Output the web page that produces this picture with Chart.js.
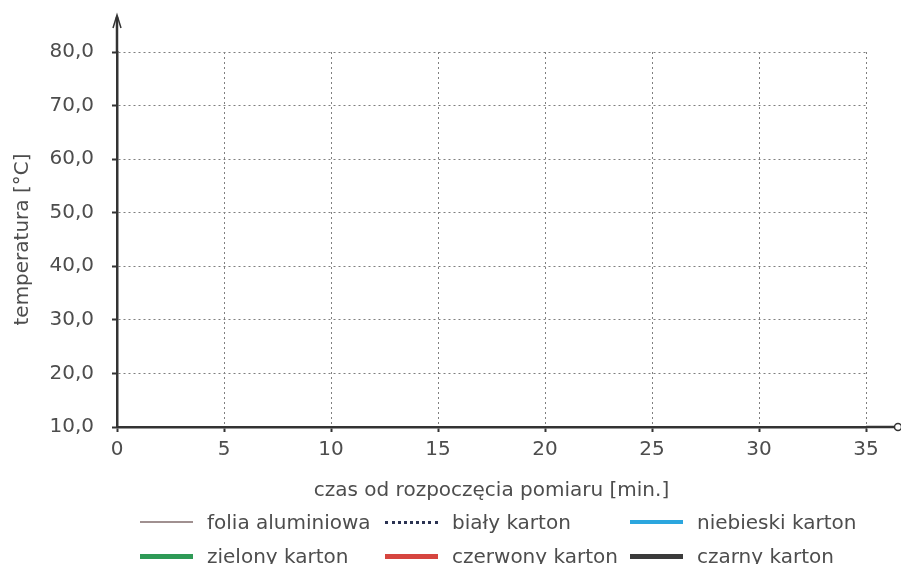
<!DOCTYPE html>
<html lang="pl">
<head>
<meta charset="utf-8">
<title>temperatura</title>
<script src="https://cdn.jsdelivr.net/npm/chart.js@4.4.1/dist/chart.umd.min.js"></script>
<style>
  html, body { margin: 0; padding: 0; background: #fff; }
  #wrap { position: relative; width: 901px; height: 564px; overflow: hidden; }
  #legend {
    position: absolute; left: 140px; top: 510px;
    display: grid; grid-template-columns: 245px 245px 245px; row-gap: 10px;
    font-family: "DejaVu Sans", sans-serif; font-size: 20px; color: #4d4d4d;
  }
  .item { display: flex; align-items: center; height: 24px; white-space: nowrap; }
  .swatch { display: inline-block; width: 53px; margin-right: 14px; }
</style>
</head>
<body>
<div id="wrap">
  <canvas id="tempChart" width="901" height="564"></canvas>
  <div id="legend"></div>
</div>
<script>
// osie
const xTicks = [0, 5, 10, 15, 20, 25, 30, 35];
const yTicks = [10, 20, 30, 40, 50, 60, 70, 80];

// serie pomiarowe (wykres jest pusty - brak punktów)
const seriesNames = ['folia aluminiowa', 'biały karton', 'niebieski karton',
                     'zielony karton', 'czerwony karton', 'czarny karton'];
const foliaAluminiowa = [];
const bialyKarton = [];
const niebieskiKarton = [];
const zielonyKarton = [];
const czerwonyKarton = [];
const czarnyKarton = [];

const seriesData = [foliaAluminiowa, bialyKarton, niebieskiKarton, zielonyKarton, czerwonyKarton, czarnyKarton];
const seriesColors = ['#a09090', '#2b3352', '#2ba6de', '#2e9a56', '#d6453f', '#3b3b3b'];
const seriesWidths = [2, 3, 4, 5, 5, 5];
const seriesDashed = [false, true, false, false, false, false];

const textColor = '#4d4d4d';
const font = { family: '"DejaVu Sans", sans-serif', size: 20 };

const fmt = v => v.toFixed(1).replace('.', ',');

// strzałki na końcach osi
const axisArrows = {
    id: 'axisArrows',
    afterDraw(chart) {
        const { ctx, chartArea: a } = chart;
        ctx.save();
        ctx.strokeStyle = '#333';
        ctx.lineWidth = 2.5;
        // oś Y w górę
        ctx.beginPath();
        ctx.moveTo(a.left, a.top);
        ctx.lineTo(a.left, 17);
        ctx.stroke();
        ctx.lineWidth = 1.5;
        ctx.beginPath();
        ctx.moveTo(a.left - 4, 28);
        ctx.lineTo(a.left, 15);
        ctx.lineTo(a.left + 4, 28);
        ctx.stroke();
        // oś X w prawo
        ctx.lineWidth = 2.5;
        ctx.beginPath();
        ctx.moveTo(a.right, a.bottom);
        ctx.lineTo(894, a.bottom);
        ctx.stroke();
        ctx.lineWidth = 1.5;
        ctx.beginPath();
        ctx.arc(898, a.bottom, 3.5, 0, Math.PI * 2);
        ctx.stroke();
        ctx.restore();
    }
};

const datasets = seriesNames.map((name, i) => ({
    label: name,
    data: seriesData[i],
    borderColor: seriesColors[i],
    borderWidth: seriesWidths[i],
    borderDash: seriesDashed[i] ? [2, 2] : [],
    pointRadius: 0,
    fill: false
}));

const chart = new Chart(document.getElementById('tempChart'), {
    type: 'line',
    data: { datasets: datasets },
    plugins: [axisArrows],
    options: {
        responsive: false,
        animation: false,
        layout: { padding: { top: 52, right: 35, bottom: 47, left: 0 } },
        plugins: {
            legend: { display: false },
            tooltip: { enabled: false }
        },
        scales: {
            x: {
                type: 'linear',
                min: 0,
                max: 35,
                afterFit: s => { s.height = 90; },
                afterBuildTicks: s => { s.ticks = xTicks.map(v => ({ value: v })); },
                ticks: { color: textColor, font: font, padding: 6 },
                grid: {
                    color: '#7f7f7f', lineWidth: 1,
                    tickLength: 5, tickColor: '#333', tickWidth: 2, tickBorderDash: []
                },
                border: { color: '#333', width: 2.5, dash: [2, 3] },
                title: {
                    display: true,
                    text: 'czas od rozpoczęcia pomiaru [min.]',
                    color: textColor, font: font,
                    padding: { top: 4, bottom: 14 }
                }
            },
            y: {
                type: 'linear',
                min: 10,
                max: 80,
                afterFit: s => { s.width = 117; },
                afterBuildTicks: s => { s.ticks = yTicks.map(v => ({ value: v })); },
                ticks: { color: textColor, font: font, padding: 18, callback: v => fmt(v) },
                grid: {
                    color: '#7f7f7f', lineWidth: 1,
                    tickLength: 5, tickColor: '#333', tickWidth: 2, tickBorderDash: []
                },
                border: { color: '#333', width: 2.5, dash: [2, 3] },
                title: {
                    display: true,
                    text: 'temperatura [°C]',
                    color: textColor, font: font,
                    padding: { top: 11, bottom: 4 }
                }
            }
        }
    }
});

// legenda w HTML, trzy kolumny jak w oryginale
const legendEl = document.getElementById('legend');
chart.data.datasets.forEach(ds => {
    const item = document.createElement('div');
    item.className = 'item';
    const sw = document.createElement('span');
    sw.className = 'swatch';
    const style = ds.borderDash.length ? 'dotted' : 'solid';
    sw.style.borderTop = `${ds.borderWidth}px ${style} ${ds.borderColor}`;
    const txt = document.createElement('span');
    txt.textContent = ds.label;
    item.appendChild(sw);
    item.appendChild(txt);
    legendEl.appendChild(item);
});
</script>
</body>
</html>
